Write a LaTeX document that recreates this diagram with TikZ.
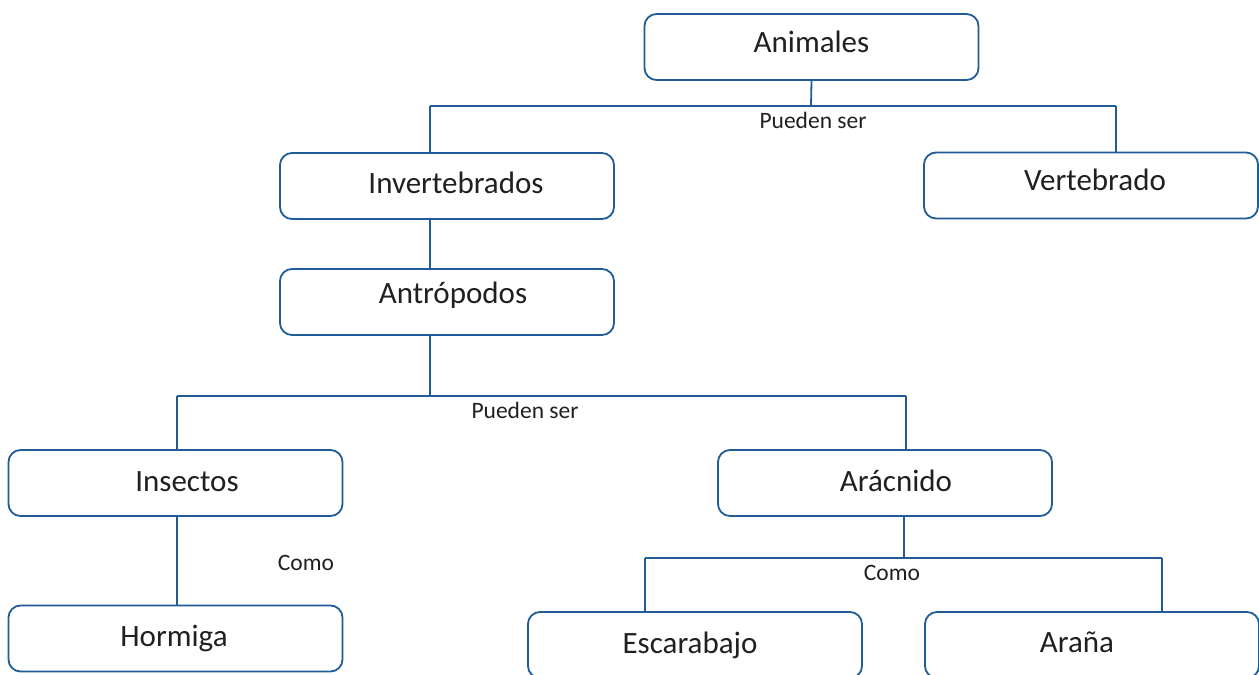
\documentclass[tikz,border=0pt]{standalone}
\usepackage{fontspec}
\setmainfont{Carlito}
\definecolor{lineblue}{RGB}{34,92,150}
\definecolor{txt}{RGB}{35,31,32}
\newcommand{\boxtxt}[3]{\raisebox{#2pt}{\kern#1pt\kern#1pt #3}}
\begin{document}
\begin{tikzpicture}[x=1pt,y=-1pt,
  box/.style={draw=lineblue, line width=1.8pt, rounded corners=12pt,
    minimum width=334pt, minimum height=66pt, inner sep=0pt,
    font=\fontsize{31}{36}\selectfont, text=txt, fill=white},
  lbl/.style={font=\fontsize{23.5}{28}\selectfont, text=txt, inner sep=0pt},
  conn/.style={draw=lineblue, line width=1.8pt}]
\useasboundingbox (0,0) rectangle (1259,675);
\clip (0,0) rectangle (1259,675);
\fill[white] (0,0) rectangle (1259,675);
% boxes
\node[box] (anim) at (811.5,47) {\boxtxt{0}{10}{Animales}};
\node[box] (inv) at (447,186) {\boxtxt{9}{7}{Invertebrados}};
\node[box] (vert) at (1091,185.5) {\boxtxt{4}{12.5}{Vertebrado}};
\node[box] (antr) at (447,302) {\boxtxt{6}{18}{Antrópodos}};
\node[box] (ins) at (175.5,483) {\boxtxt{11.5}{2}{Insectos}};
\node[box] (arac) at (885,483) {\boxtxt{11}{5}{Arácnido}};
\node[box] (horm) at (175.5,638.5) {\boxtxt{-1.5}{-12}{Hormiga}};
\node[box] (esc) at (695,645) {\boxtxt{-5}{2}{Escarabajo}};
\node[box] (aran) at (1092,645) {\boxtxt{-15}{5}{Araña}};
% level 1
\coordinate (h1L) at (430,106);
\coordinate (h1R) at (1116,106);
\coordinate (h1M) at (811,106);
\draw[conn] (anim.south) -- (h1M);
\draw[conn] (h1L) -- (h1R);
\draw[conn] (h1L) -- (h1L |- inv.north);
\draw[conn] (h1R) -- (h1R |- vert.north);
\node[lbl] (l1) at (813,120) {Pueden ser};
% inv - antr
\coordinate (v2) at (430,0);
\draw[conn] (v2 |- inv.south) -- (v2 |- antr.north);
% level 2
\coordinate (h2L) at (177,396);
\coordinate (h2R) at (906,396);
\coordinate (h2M) at (430,396);
\draw[conn] (h2M |- antr.south) -- (h2M);
\draw[conn] (h2L) -- (h2R);
\draw[conn] (h2L) -- (h2L |- ins.north);
\draw[conn] (h2R) -- (h2R |- arac.north);
\node[lbl] (l2) at (525,410) {Pueden ser};
% ins - horm
\coordinate (v3) at (177,0);
\draw[conn] (v3 |- ins.south) -- (v3 |- horm.north);
\node[lbl] (l3) at (306,563) {Como};
% level 3
\coordinate (h3L) at (645,558);
\coordinate (h3R) at (1162,558);
\coordinate (h3M) at (904,558);
\draw[conn] (h3M |- arac.south) -- (h3M);
\draw[conn] (h3L) -- (h3R);
\draw[conn] (h3L) -- (h3L |- esc.north);
\draw[conn] (h3R) -- (h3R |- aran.north);
\node[lbl] (l4) at (892,573) {Como};
\end{tikzpicture}
\end{document}
